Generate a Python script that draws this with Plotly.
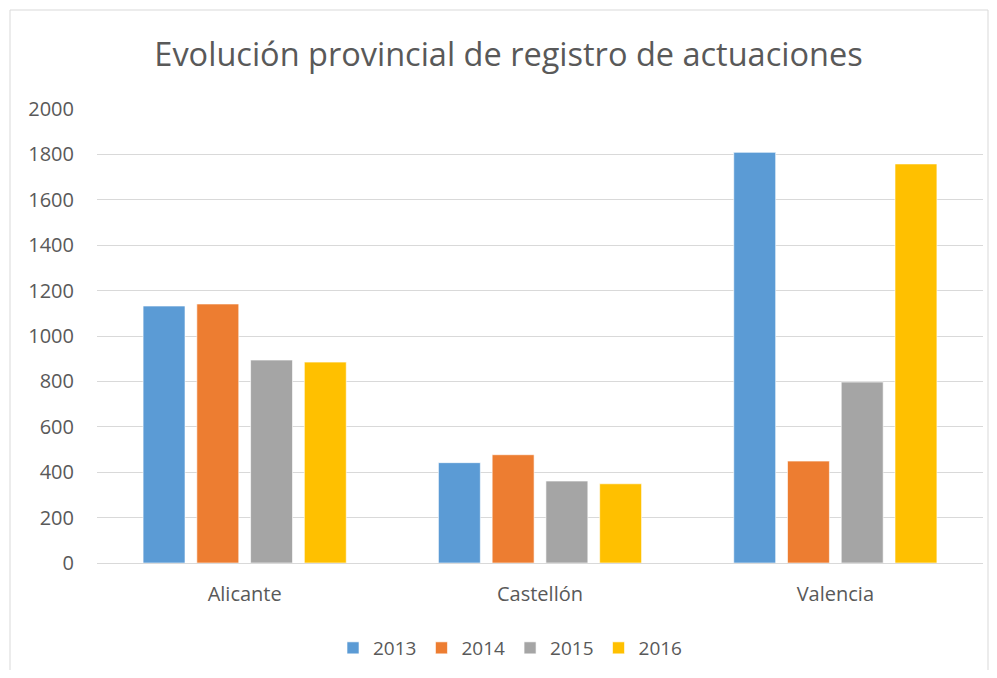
import plotly.graph_objects as go

categories = ["Alicante", "Castellón", "Valencia"]
years = ["2013", "2014", "2015", "2016"]
values_2013 = [1132, 442, 1809]
values_2014 = [1141, 477, 449]
values_2015 = [894, 361, 797]
values_2016 = [885, 349, 1758]
colors = ["#5B9BD5", "#ED7D31", "#A5A5A5", "#FFC000"]

series = [values_2013, values_2014, values_2015, values_2016]
FONT = "Open Sans"
TXT = "#595959"

fig = go.Figure()
for name, vals, col in zip(years, series, colors):
    fig.add_trace(go.Bar(
        x=categories, y=vals, name=name,
        marker=dict(color=col, line=dict(color="rgba(255,255,255,0.6)", width=1)),
    ))

OFF = 8  # page body margin
W, H = 981, 662
L, T = 97 - OFF, 109 - OFF
R = W - (983 - OFF)
B = H - (563 - OFF)
pw, ph = W - L - R, H - T - B

def px_x(p):
    return (p - OFF - L) / pw

def px_y(p):
    return (H - B - (p - OFF)) / ph

fig.update_layout(
    width=W, height=H,
    margin=dict(l=L, r=R, t=T, b=B, autoexpand=False),
    paper_bgcolor="white", plot_bgcolor="white",
    barmode="group", bargap=0.272, bargroupgap=0.22,
    font=dict(family=FONT, color=TXT, size=20),
    title=dict(text="Evolución provincial de registro de actuaciones",
               x=(508.5 - OFF) / W, xanchor="center", xref="container",
               y=1 - (55 - OFF) / H, yanchor="middle",
               font=dict(family=FONT, size=32.5, color=TXT)),
    xaxis=dict(showgrid=False, showline=True, linecolor="#d9d9d9", linewidth=1,
               ticks="", ticklabelstandoff=13, tickfont=dict(size=20, color=TXT)),
    yaxis=dict(range=[0, 2000], dtick=200, showgrid=True, gridcolor="#d9d9d9",
               gridwidth=1, zeroline=False, showline=False, ticks="",
               ticklabelstandoff=22, tickfont=dict(size=20, color=TXT)),
    legend=dict(orientation="h", xref="container", x=(510 - OFF) / W, xanchor="center",
                yref="container", y=1 - (648 - OFF) / H, yanchor="middle",
                font=dict(size=19, color=TXT), traceorder="normal"),
    shapes=[dict(type="rect", xref="paper", yref="paper",
                 x0=px_x(10), x1=px_x(988), y0=px_y(690), y1=px_y(10),
                 line=dict(color="#d9d9d9", width=1), fillcolor="rgba(0,0,0,0)",
                 layer="below")],
)

fig.write_html("out.html")
